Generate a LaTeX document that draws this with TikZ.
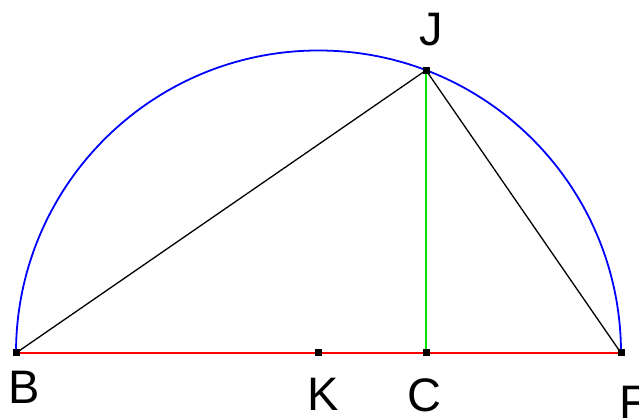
\documentclass[tikz,border=0pt]{standalone}
\usepackage{fontspec}
\setmainfont{Liberation Sans}
\usetikzlibrary{calc}
\begin{document}
\begin{tikzpicture}[x=1pt,y=1pt,
  lbl/.style={inner sep=0pt,anchor=base,text depth=0pt,font=\fontsize{47}{47}\selectfont},
  pt/.style={fill=black,minimum size=7pt,inner sep=0pt,draw=none,rectangle},
  seg/.style={line width=1.3pt,black}]
\useasboundingbox (0,0) rectangle (639,419);
\coordinate (K) at (318.5,66);
\coordinate (B) at (16,66);
\coordinate (F) at (621,66);
\coordinate (J) at ($(K)+(69.18:302.5)$);
\coordinate (C) at (J |- K);
\draw[blue,line width=1.8pt] (F) arc[start angle=0,end angle=180,radius=302.5];
\draw[red,line width=2.4pt] (B) -- (F);
\draw[seg] (B) -- (J) -- (F);
\draw[line width=2.4pt,color={rgb,255:red,0;green,230;blue,0}] (J) -- (C);
\node[pt] (pB) at (B) {};
\node[pt] (pK) at (K) {};
\node[pt] (pC) at (C) {};
\node[pt] (pF) at (F) {};
\node[pt] (pJ) at (J) {};
\node[lbl] (lB) at (24.5,15) {B};
\node[lbl] (lK) at (323,8) {K};
\node[lbl] (lC) at (424,7) {C};
\node[lbl] (lF) at (634,0) {F};
\node[lbl] (lJ) at (431,373) {J};
\end{tikzpicture}
\end{document}
